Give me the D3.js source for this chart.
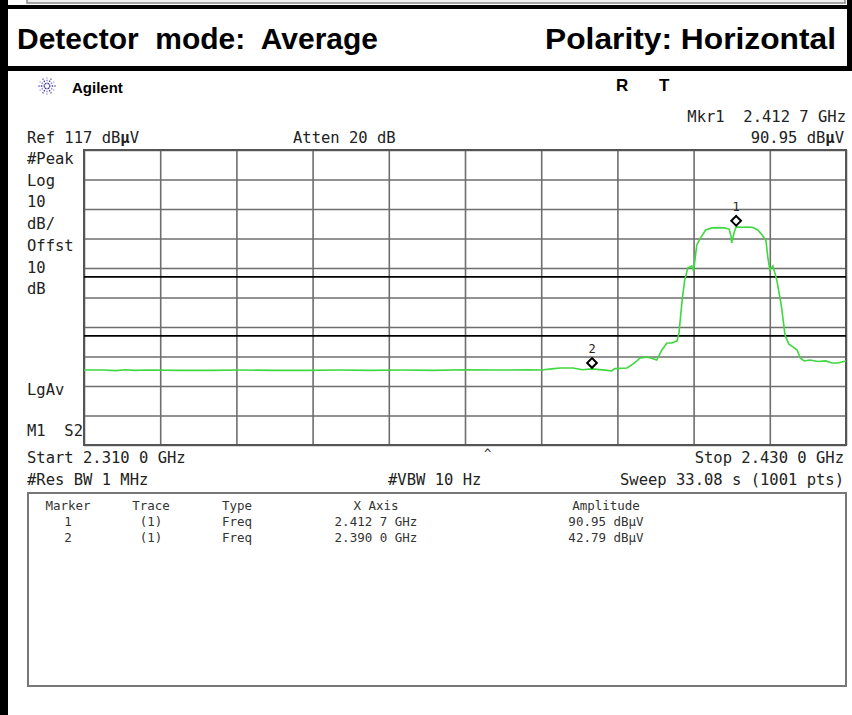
<!DOCTYPE html>
<html>
<head>
<meta charset="utf-8">
<script src="https://cdn.jsdelivr.net/npm/d3@7"></script>
<style>
  html, body { margin: 0; padding: 0; background: #fff; }
  svg { display: block; }
  text { white-space: pre; }
  .mono { font-family: "DejaVu Sans Mono", monospace; font-size: 15.5px; fill: #222; }
  .tbl { font-family: "DejaVu Sans Mono", monospace; font-size: 12.5px; fill: #333; }
  .hdr { font-family: "Liberation Sans", Arial, sans-serif; font-weight: bold; font-size: 30px; fill: #000; }
</style>
</head>
<body>
<script>
// ---------------- DATA ----------------
const gridFreqs = [2310, 2322, 2334, 2346, 2358, 2370, 2382, 2394, 2406, 2418, 2430]; // MHz
const gridAmps  = [17, 27, 37, 47, 57, 67, 77, 87, 97, 107, 117];                  // dBµV
const limitLines = [74, 54];                                                        // dBµV

const traceFreq = [2310, 2313, 2315, 2316.5, 2318, 2320, 2325, 2330, 2335, 2340, 2345, 2350, 2355, 2360, 2365, 2370, 2375, 2380,
  2382, 2384, 2385, 2387, 2388.5, 2390, 2392.4, 2393.1, 2393.6, 2395.5, 2396.5, 2397.6, 2398.7, 2399.6,
  2400.2, 2401.0, 2401.8, 2402.6, 2403.4, 2403.7, 2404.2, 2404.6, 2405.1, 2405.7, 2406.0, 2406.5, 2407.1,
  2407.9, 2408.9, 2409.8, 2410.8, 2411.6, 2411.9, 2412.0, 2412.4, 2412.7, 2413.6, 2414.6, 2415.4, 2416.1,
  2416.8, 2417.4, 2417.7, 2418.0, 2418.5, 2419.1, 2419.8, 2420.4, 2421.0, 2421.7, 2422.3, 2422.8, 2423.4,
  2424.3, 2425.6, 2426.8, 2427.8, 2428.7, 2430];
const traceAmp = [42.4, 42.4, 42.2, 42.5, 42.3, 42.4, 42.3, 42.3, 42.4, 42.3, 42.3, 42.4, 42.3, 42.4, 42.3, 42.5, 42.4, 42.5,
  42.4, 42.9, 43.1, 43.1, 42.5, 42.79, 42.3, 42.1, 42.9, 43.1, 44.5, 46.5, 46.8, 46.2,
  45.8, 49.2, 51.6, 51.6, 52.3, 55.0, 66.2, 72.9, 77.0, 77.7, 76.0, 84.8, 87.2,
  89.9, 90.6, 90.7, 90.6, 90.2, 87.8, 85.5, 89.2, 90.95, 90.8, 90.9, 90.7, 89.9,
  88.2, 86.2, 80.4, 76.3, 77.7, 72.9, 64.5, 54.3, 51.2, 50.2, 49.2, 46.5, 45.5,
  45.8, 45.3, 45.5, 44.8, 44.8, 45.5];

const markerIds  = ["1", "2"];
const markerFreq = [2412.7, 2390.0];
const markerAmp  = [90.95, 42.79];

const leftLabels = ["#Peak", "Log", "10", "dB/", "Offst", "10", "dB"];
const tableHeader = ["Marker", "Trace", "Type", "X Axis", "Amplitude"];
const tableRows = [
  ["1", "(1)", "Freq", "2.412 7 GHz", "90.95 dBµV"],
  ["2", "(1)", "Freq", "2.390 0 GHz", "42.79 dBµV"]
];

// ---------------- DRAW ----------------
const W = 852, H = 715;
const svg = d3.select("body").append("svg").attr("width", W).attr("height", H);

// frames
svg.append("rect").attr("x", 27).attr("y", -6).attr("width", 818).attr("height", 9)
  .attr("fill", "#eee").attr("stroke", "#888").attr("stroke-width", 1.5);
svg.append("rect").attr("x", 0).attr("y", 5).attr("width", W).attr("height", 4).attr("fill", "#000");
svg.append("rect").attr("x", 0).attr("y", 66).attr("width", W).attr("height", 5).attr("fill", "#000");
svg.append("rect").attr("x", 0).attr("y", 0).attr("width", 8).attr("height", H).attr("fill", "#000");
svg.append("rect").attr("x", 847).attr("y", 0).attr("width", 5).attr("height", 71).attr("fill", "#000");

// header text
svg.append("text").attr("class", "hdr").attr("x", 17).attr("y", 49)
  .attr("textLength", 361).attr("lengthAdjust", "spacingAndGlyphs").text("Detector  mode:  Average");
svg.append("text").attr("class", "hdr").attr("x", 545).attr("y", 49)
  .attr("textLength", 291).attr("lengthAdjust", "spacingAndGlyphs").text("Polarity: Horizontal");

// Agilent logo (starburst)
const logo = svg.append("g").attr("transform", "translate(47,86)");
d3.range(12).forEach(i => {
  const a = i * Math.PI / 6;
  logo.append("line").attr("x1", Math.cos(a) * 2).attr("y1", Math.sin(a) * 2)
    .attr("x2", Math.cos(a) * 8.5).attr("y2", Math.sin(a) * 8.5)
    .attr("stroke", i % 2 ? "#8a7fd0" : "#3a3aa0").attr("stroke-width", 1.3)
    .attr("stroke-dasharray", "1.5,1.2");
});
svg.append("text").attr("x", 72).attr("y", 93)
  .style("font-family", "Liberation Sans, Arial, sans-serif").style("font-weight", "bold")
  .style("font-size", "15px").text("Agilent");
svg.append("text").attr("x", 616).attr("y", 91)
  .style("font-family", "Liberation Sans, Arial, sans-serif").style("font-weight", "bold")
  .style("font-size", "17px").text("R");
svg.append("text").attr("x", 659).attr("y", 91)
  .style("font-family", "Liberation Sans, Arial, sans-serif").style("font-weight", "bold")
  .style("font-size", "17px").text("T");

// scales
const x = d3.scaleLinear().domain([2310, 2430]).range([84, 846]);
const y = d3.scaleLinear().domain([17, 117]).range([445, 150]);

// grid via axes
const plotH = y(17) - y(117), plotW = x(2430) - x(2310);
svg.append("g").attr("transform", `translate(0,${y(17)})`)
  .call(d3.axisBottom(x).tickValues(gridFreqs).tickSize(-plotH).tickFormat(""))
  .call(g => g.select(".domain").remove())
  .call(g => g.selectAll("line").attr("stroke", "#6e6e6e").attr("stroke-width", 1.6));
svg.append("g").attr("transform", `translate(${x(2310)},0)`)
  .call(d3.axisLeft(y).tickValues(gridAmps).tickSize(-plotW).tickFormat(""))
  .call(g => g.select(".domain").remove())
  .call(g => g.selectAll("line").attr("stroke", "#6e6e6e").attr("stroke-width", 1.6));
svg.append("rect").attr("x", x(2310)).attr("y", y(117)).attr("width", plotW).attr("height", plotH)
  .attr("fill", "none").attr("stroke", "#555").attr("stroke-width", 2);

// limit lines
svg.selectAll(".lim").data(limitLines).enter().append("line")
  .attr("x1", x(2310)).attr("x2", x(2430)).attr("y1", d => y(d)).attr("y2", d => y(d))
  .attr("stroke", "#000").attr("stroke-width", 1.6);

// trace
const pts = traceFreq.map((f, i) => ({ f, a: traceAmp[i] }));
svg.append("path").datum(pts)
  .attr("d", d3.line().x(d => x(d.f)).y(d => y(d.a)))
  .attr("fill", "none").attr("stroke", "#3fd83f").attr("stroke-width", 1.6);

// markers
markerIds.forEach((id, i) => {
  const cx = x(markerFreq[i]), cy = y(markerAmp[i]) - 6;
  svg.append("path").attr("d", d3.symbol(d3.symbolDiamond2, 60)())
    .attr("transform", `translate(${cx},${cy})`)
    .attr("fill", "#fff").attr("stroke", "#000").attr("stroke-width", 2);
  svg.append("text").attr("class", "mono").style("font-size", "12px")
    .attr("x", cx).attr("y", cy - 10).attr("text-anchor", "middle").text(id);
});

// side / top / bottom annotation text
function mono(t, xx, yy, anchor) {
  return svg.append("text").attr("class", "mono").attr("x", xx).attr("y", yy)
    .attr("text-anchor", anchor || "start").text(t);
}
function monoMu(pre, post, xx, yy, anchor) {
  const t = svg.append("text").attr("class", "mono").attr("x", xx).attr("y", yy)
    .attr("text-anchor", anchor || "start");
  t.append("tspan").text(pre);
  t.append("tspan").style("font-weight", "bold").text("µ");
  t.append("tspan").text(post);
  return t;
}
monoMu("Ref 117 dB", "V", 27, 143);
mono("Atten 20 dB", 293, 143);
mono("Mkr1  2.412 7 GHz", 846, 122, "end");
monoMu("90.95 dB", "V", 844, 143, "end");
leftLabels.forEach((t, i) => mono(t, 27, 164 + i * 21.7));
mono("LgAv", 27, 395);
mono("M1  S2", 27, 436);
mono("Start 2.310 0 GHz", 27, 463);
mono("Stop 2.430 0 GHz", 844, 463, "end");
mono("#Res BW 1 MHz", 27, 485);
mono("#VBW 10 Hz", 388, 485);
mono("Sweep 33.08 s (1001 pts)", 844, 485, "end");
mono("^", 484, 458).style("font-size", "12px");

// marker table
svg.append("rect").attr("x", 28).attr("y", 493).attr("width", 818).attr("height", 193)
  .attr("fill", "#fff").attr("stroke", "#777").attr("stroke-width", 2);
const colX = [68, 151, 222, 376, 606];
const colAnchor = ["middle", "middle", "start", "middle", "middle"];
tableHeader.forEach((t, j) => {
  svg.append("text").attr("class", "tbl").attr("x", colX[j]).attr("y", 510)
    .attr("text-anchor", colAnchor[j]).text(t);
});
tableRows.forEach((row, i) => {
  row.forEach((t, j) => {
    svg.append("text").attr("class", "tbl").attr("x", colX[j]).attr("y", 526 + i * 16)
      .attr("text-anchor", colAnchor[j]).text(t);
  });
});
</script>
</body>
</html>
